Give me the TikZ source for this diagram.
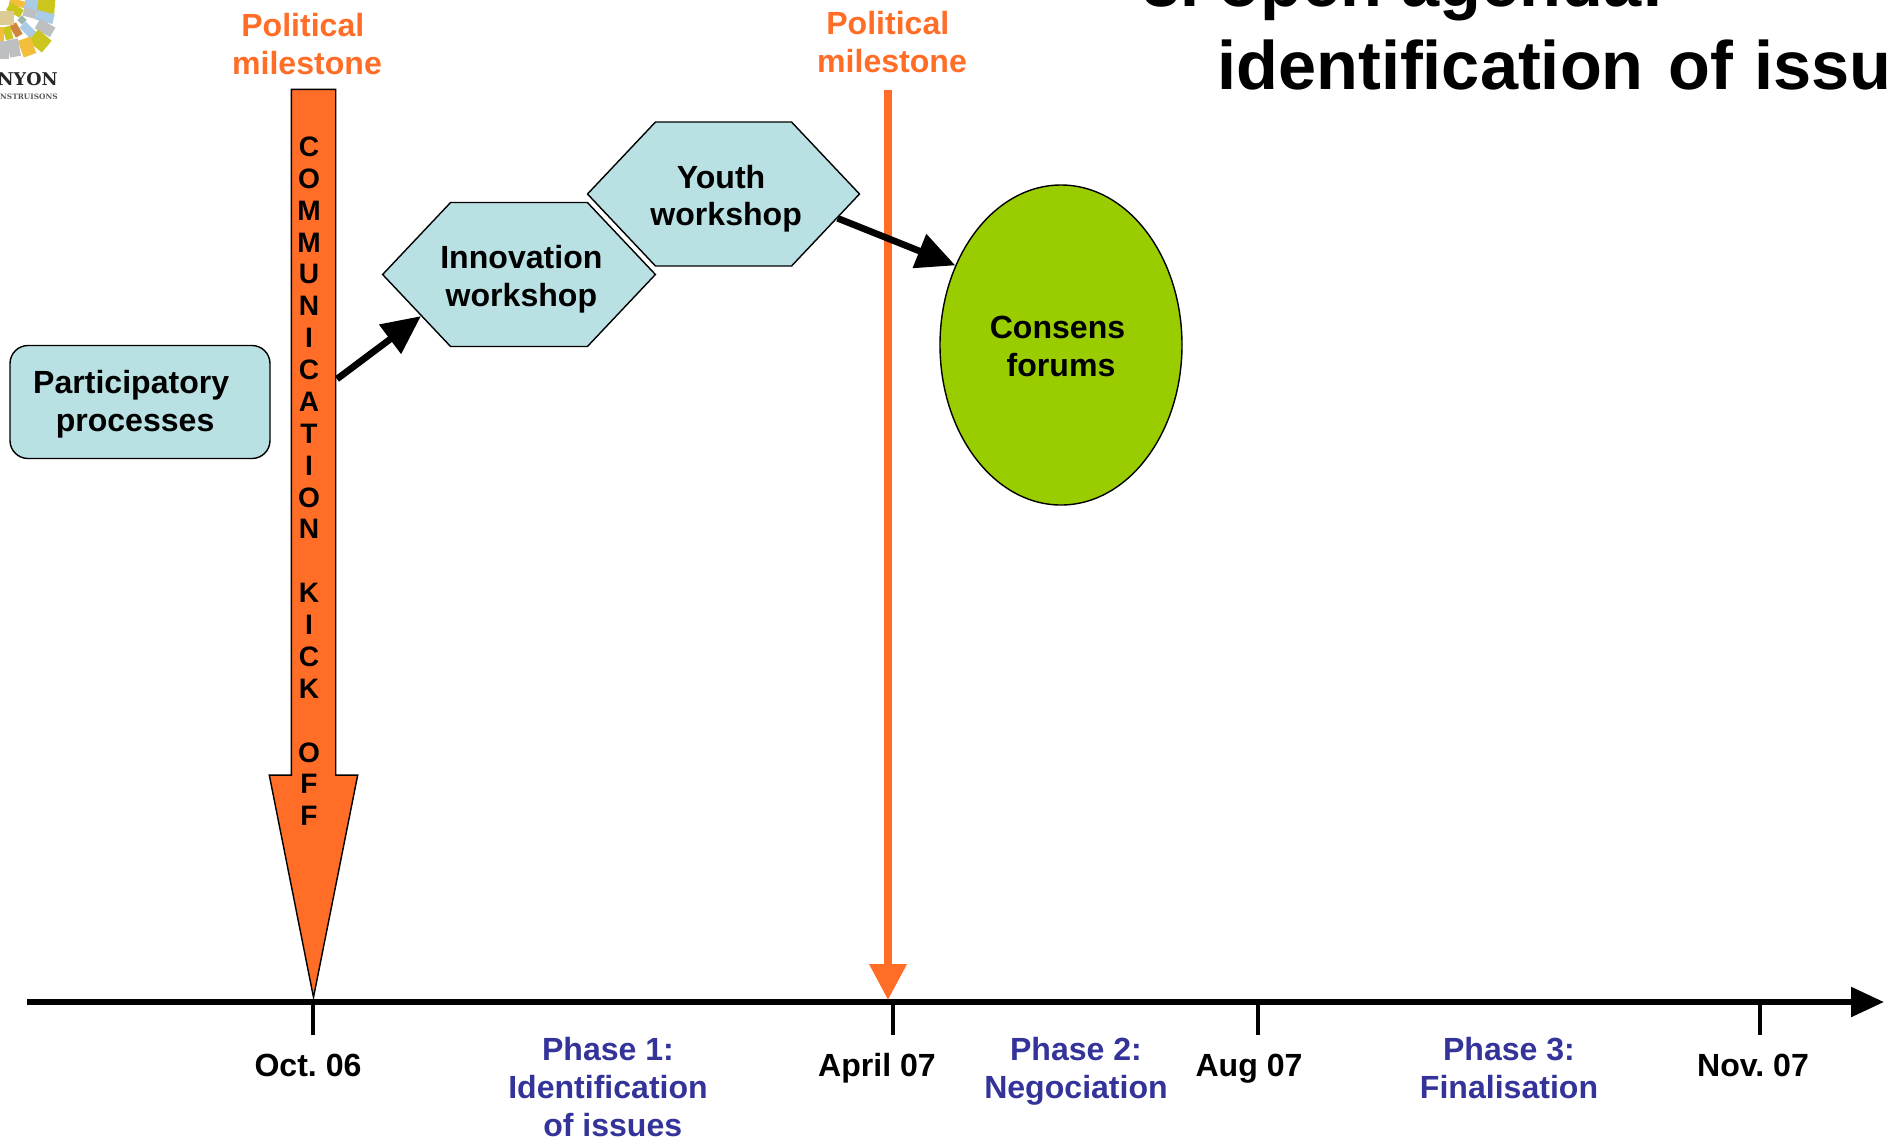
\documentclass[tikz,border=0pt]{standalone}
\usepackage{fontspec}
\setmainfont{Liberation Sans}
\newfontfamily\logofont{DejaVu Serif}
\usetikzlibrary{arrows.meta, shapes.geometric, shapes.symbols, shapes.arrows}

\definecolor{milestoneorange}{HTML}{FF6D27}
\definecolor{paleblue}{HTML}{B9E0E3}
\definecolor{consensgreen}{HTML}{9ACD00}
\definecolor{phaseblue}{HTML}{333399}
\definecolor{logoyellow}{HTML}{F2BE3C}
\definecolor{logoolive}{HTML}{CBC61E}
\definecolor{logoblue}{HTML}{A9CBE6}
\definecolor{logogrey}{HTML}{BDBFC1}
\definecolor{logobrown}{HTML}{CF8440}
\definecolor{logobeige}{HTML}{DCCB94}
\definecolor{logoteal}{HTML}{9DB5AC}

\def\px{0.02cm}
\tikzset{
    labeltext/.style={font=\fontsize{18.25}{21.5}\selectfont\bfseries, align=center, inner sep=0pt},
    milestonetext/.style={labeltext, text=milestoneorange},
    phasetext/.style={labeltext, text=phaseblue},
    datetext/.style={labeltext, anchor=base},
    hexagonbox/.style={labeltext, draw=black, line width=0.8pt, fill=paleblue, shape=signal,
        signal to=west and east, signal pointer angle=93.3, inner xsep=-15*\px,
        minimum width=272*\px, minimum height=144*\px},
    flowarrow/.style={line width=3.8pt, -{Triangle[length=22pt, width=20pt]}},
    tickline/.style={line width=2pt}
}

\begin{document}
\frenchspacing
\begin{tikzpicture}[x=\px, y=-\px]
    \useasboundingbox (0,0) rectangle (1890,1140);
    \clip (0,0) rectangle (1890,1140);

    % Logo, cut by the corner of the slide
    \foreach \cx/\cy/\ang/\hw/\hh/\col in {
        46/6/5/8/7/logoolive, 31/4/10/6/5/logoblue, 17/3/15/7/3/logoyellow,
        15/10/30/7/4/logoolive, 30/13/15/6/4/logogrey, 45/17/15/8/4.5/logoblue,
        45/28/30/8/5/logogrey, 28/30/45/7/4/logoblue, 22/20/45/3/3/logoteal,
        40/41/40/8/7/logoolive, 27/47/70/8/6/logoyellow, 14/48/80/8/5/logogrey,
        3/50/90/8/5/logogrey, 16/30/60/6/3.5/logobrown, 8/33/75/6/3.5/logoolive,
        0/34/90/6/4/logoyellow, 5/18/0/8/6/logobeige}
        \fill[\col, shift={(\cx,\cy)}, rotate=-\ang, scale=1.1] (-\hw,-\hh) rectangle (\hw,\hh);
    \node[anchor=base east, inner sep=0pt, text=black!85] (logoname) at (58,85)
        {\logofont\fontsize{10}{12}\selectfont\bfseries ANYON};
    \node[anchor=base east, inner sep=0pt, text=black!65] (logosub) at (58,99)
        {\logofont\fontsize{4.2}{5}\selectfont\bfseries CONSTRUISONS};

    % Title, running off the slide
    \node[anchor=base west, inner sep=0pt] (titleone) at (1142,6)
        {\fontsize{39}{47}\selectfont\bfseries 3. open agenda:};
    \node[anchor=base west, inner sep=0pt] (titletwo) at (1217,89)
        {\fontsize{39}{47}\selectfont\bfseries identification\hspace{3.4pt} of\hspace{0.9pt} issues};

    % Time axis with its ticks
    \coordinate (axisstart) at (27,1002);
    \coordinate (axisend) at (1884,1002);
    \draw[line width=3.2pt, -{Triangle[length=33*\px, width=29*\px]}] (axisstart) -- (axisend);
    \foreach \name/\xpos in {octtick/313, aprtick/893, augtick/1258, novtick/1760} {
        \coordinate (\name) at (\xpos,1002);
        \coordinate (\name end) at (\xpos,1035);
        \draw[tickline] (\name) -- (\name end);
    }

    % Dates under the ticks
    \node[datetext] (octdate) at (308,1076) {Oct. 06};
    \node[datetext] (aprdate) at (877,1076) {April 07};
    \node[datetext] (augdate) at (1249,1076) {Aug 07};
    \node[datetext] (novdate) at (1753,1076) {Nov. 07};

    % Phases between the dates
    \node[phasetext] (phaseone) at (608,1087) {Phase 1:\\Identification\\\hspace*{5.4pt}of issues};
    \node[phasetext] (phasetwo) at (1076,1071) {Phase 2:\\Negociation};
    \node[phasetext] (phasethree) at (1509,1068) {Phase 3:\\Finalisation};

    % First milestone: the communication arrow
    \node[milestonetext] (milestoneone) at (307,44) {Political\hspace*{4.8pt}\\milestone};
    \node[draw=black, line width=0.8pt, fill=milestoneorange, shape=single arrow,
        rotate=-90, anchor=tip, inner xsep=0pt, inner ysep=21.5*\px, minimum width=87*\px, minimum height=908*\px,
        single arrow head extend=22*\px, single arrow tip angle=22.5] (commarrow) at (313.5,1001) {};
    \node[font=\fontsize{16}{18.14}\selectfont\bfseries, align=center, inner sep=0pt, anchor=north] (commtext) at (309,136.5)
        {C\\O\\M\\M\\U\\N\\I\\C\\A\\T\\I\\O\\N\\\strut\\K\\I\\C\\K\\\strut\\O\\F\\F};

    % Second milestone: the thin arrow
    \node[milestonetext] (milestonetwo) at (892,42) {Political\hspace*{4.8pt}\\milestone};
    \coordinate (linestart) at (888,90);
    \coordinate (lineend) at (888,1000);
    \draw[milestoneorange, line width=4pt, -{Triangle[length=36*\px, width=36*\px]}] (linestart) -- (lineend);

    % Boxes of the participatory processes
    \node[labeltext, draw=black, line width=0.8pt, fill=paleblue, rounded corners=18*\px,
        minimum width=260*\px, minimum height=113*\px] (participatory) at (140,402)
        {\rule{0pt}{16pt}Participatory\hspace*{10pt}\\processes\hspace*{5.6pt}};
    \node[hexagonbox] (innovation) at (519,274.5) {\rule{0pt}{18.7pt}\hspace*{2.7pt}Innovation\\\hspace*{2.7pt}workshop};
    \node[hexagonbox] (youth) at (723.5,194) {\rule{0pt}{18.7pt}Youth\hspace*{2.8pt}\\\hspace*{3pt}workshop};
    \node[labeltext, draw=black, line width=0.8pt, fill=consensgreen, shape=ellipse,
        minimum width=242*\px, minimum height=320*\px] (consens) at (1061,345) {\rule{0pt}{14.6pt}Consens\hspace*{4pt}\\forums};

    % Arrows between them
    \coordinate (commout) at (337,379);
    \draw[flowarrow] (commout) -- (innovation.203);
    \draw[flowarrow] (youth.-12) -- (consens.143);
\end{tikzpicture}
\end{document}
